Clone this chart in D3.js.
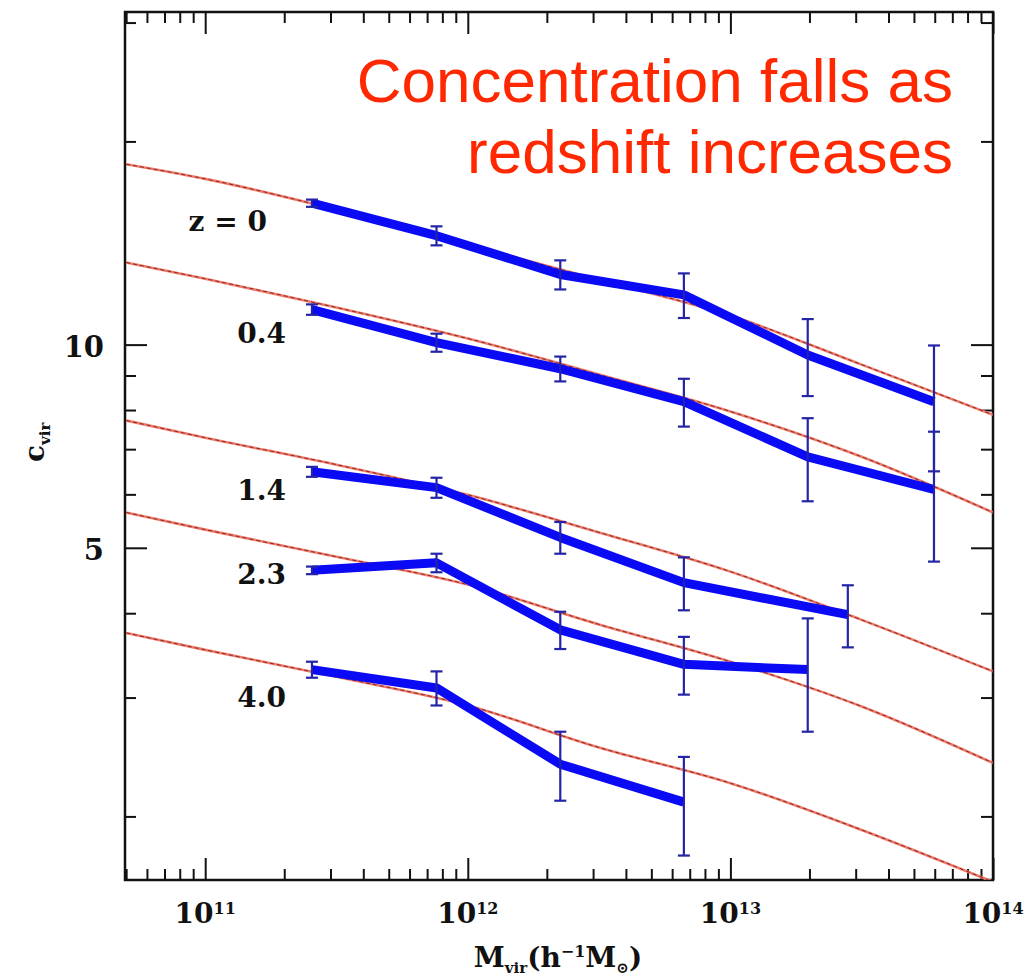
<!DOCTYPE html>
<html>
<head>
<meta charset="utf-8">
<script src="https://cdn.jsdelivr.net/npm/d3@7"></script>
<style>
  body { margin: 0; background: #fff; }
  svg { display: block; }
  .tick-lbl, .zlabel, .axis-title { font-family: "DejaVu Serif", serif; font-weight: bold; fill: #111; }
</style>
</head>
<body id="body">
<svg></svg>
<script>
// redshift labels for each series
var redshifts = ["z = 0", "0.4", "1.4", "2.3", "4.0"];

// simulation points (mass bins, median c_vir, error)
var simMass = [
  [2.55e11, 7.6e11, 2.25e12, 6.65e12, 1.97e13, 5.96e13],
  [2.55e11, 7.6e11, 2.25e12, 6.65e12, 1.97e13, 5.96e13],
  [2.55e11, 7.6e11, 2.25e12, 6.65e12, 2.8e13],
  [2.55e11, 7.6e11, 2.25e12, 6.65e12, 1.97e13],
  [2.55e11, 7.6e11, 2.25e12, 6.65e12]
];
var simC = [
  [16.2, 14.5, 12.7, 11.85, 9.65, 8.23],
  [11.27, 10.07, 9.21, 8.23, 6.82, 6.10],
  [6.48, 6.14, 5.18, 4.44, 3.98],
  [4.63, 4.75, 3.78, 3.36, 3.30],
  [3.30, 3.10, 2.39, 2.10]
];
var simErr = [
  [0.2, 0.47, 0.63, 0.9, 1.26, 1.74],
  [0.2, 0.31, 0.39, 0.67, 0.96, 1.33],
  [0.11, 0.21, 0.28, 0.4, 0.42],
  [0.06, 0.15, 0.24, 0.33, 0.63],
  [0.09, 0.18, 0.28, 0.35]
];

// model curves (red)
var modelMass = [5e10, 1e11, 3.16e11, 1e12, 3.16e12, 1e13, 3.16e13, 1e14];
var modelC = [
  [18.5, 17.6, 15.85, 14.06, 12.48, 11.04, 9.34, 7.87],
  [13.23, 12.52, 11.35, 10.21, 9.03, 7.96, 6.82, 5.64],
  [7.72, 7.28, 6.64, 5.99, 5.27, 4.61, 3.91, 3.28],
  [5.64, 5.32, 4.85, 4.41, 3.85, 3.39, 2.91, 2.40],
  [3.74, 3.53, 3.22, 2.92, 2.53, 2.24, 1.91, 1.60]
];

var xMajor = [1e11, 1e12, 1e13, 1e14];
var xMinor = [];
[1e10, 1e11, 1e12, 1e13].forEach(function (d) {
  for (var k = 2; k <= 9; k++) xMinor.push(d * k);
});
var yMajor = [5, 10];
var yMinor = [2, 3, 4, 6, 7, 8, 9, 20, 30];
var note = ["Concentration falls as", "redshift increases"];

var width = 1033, height = 980;
var plotL = 125, plotR = 993, plotT = 12, plotB = 880;

var svg = d3.select("svg")
  .attr("width", width)
  .attr("height", height);

var x = d3.scaleLog().domain([4.95e10, 1e14]).range([plotL, plotR]);
var y = d3.scaleLog().domain([1.61, 31.1]).range([plotB, plotT]);

svg.append("defs").append("clipPath")
  .attr("id", "plot-clip")
  .append("rect")
  .attr("x", plotL).attr("y", plotT)
  .attr("width", plotR - plotL).attr("height", plotB - plotT);

// ticks, all pointing inward
function ticks(axis, vals, size, tx) {
  var d = axis.scale().domain();
  var g = svg.append("g")
    .attr("transform", tx)
    .call(axis.tickValues(vals.filter(function (v) {
      return v >= d[0] && v <= d[1];
    })).tickSize(size).tickFormat(""));
  g.select(".domain").remove();
  g.selectAll(".tick line").attr("stroke", "#111").attr("stroke-width", 2);
}
ticks(d3.axisBottom(x), xMinor, -11, "translate(0," + plotB + ")");
ticks(d3.axisBottom(x), xMajor, -22, "translate(0," + plotB + ")");
ticks(d3.axisTop(x), xMinor, -11, "translate(0," + plotT + ")");
ticks(d3.axisTop(x), xMajor, -22, "translate(0," + plotT + ")");
ticks(d3.axisLeft(y), yMinor, -11, "translate(" + plotL + ",0)");
ticks(d3.axisLeft(y), yMajor, -22, "translate(" + plotL + ",0)");
ticks(d3.axisRight(y), yMinor, -12, "translate(" + plotR + ",0)");
ticks(d3.axisRight(y), yMajor, -22, "translate(" + plotR + ",0)");

svg.append("rect")
  .attr("x", plotL).attr("y", plotT)
  .attr("width", plotR - plotL).attr("height", plotB - plotT)
  .attr("fill", "none").attr("stroke", "#111").attr("stroke-width", 2.5);

// tick labels
var xl = svg.append("g").selectAll("text")
  .data(xMajor)
  .enter().append("text")
  .attr("class", "tick-lbl")
  .attr("x", function (d) { return x(d); })
  .attr("y", 923)
  .attr("text-anchor", "middle")
  .style("font-size", "28px");
xl.append("tspan").text("10");
xl.append("tspan")
  .attr("dy", -9)
  .style("font-size", "16px")
  .text(function (d) { return Math.round(Math.log10(d)); });

svg.append("g").selectAll("text")
  .data(yMajor)
  .enter().append("text")
  .attr("class", "tick-lbl")
  .attr("x", 104)
  .attr("y", function (d) { return y(d) + 12; })
  .attr("text-anchor", "end")
  .style("font-size", "29px")
  .text(function (d) { return d; });

// axis titles
var xt = svg.append("text")
  .attr("class", "axis-title")
  .attr("x", 558).attr("y", 967)
  .attr("text-anchor", "middle")
  .style("font-size", "28px");
xt.append("tspan").text("M");
xt.append("tspan").attr("dy", 6).style("font-size", "15px").text("vir");
xt.append("tspan").attr("dy", -6).text("(h");
xt.append("tspan").attr("dy", -10).style("font-size", "16px").text("\u22121");
xt.append("tspan").attr("dy", 10).text("M");
xt.append("tspan").attr("dy", 6).style("font-size", "15px").text("\u2299");
xt.append("tspan").attr("dy", -6).text(")");

var yt = svg.append("text")
  .attr("class", "axis-title")
  .attr("transform", "translate(44,462) rotate(-90)")
  .style("font-size", "28px");
yt.append("tspan").text("c");
yt.append("tspan").attr("dy", 6).style("font-size", "15px").text("vir");

var plot = svg.append("g").attr("clip-path", "url(#plot-clip)");

// model curves
var modelLine = d3.line()
  .x(function (d) { return x(d[0]); })
  .y(function (d) { return y(d[1]); })
  .curve(d3.curveMonotoneX);

modelC.forEach(function (cs) {
  var pts = modelMass.map(function (m, i) { return [m, cs[i]]; });
  plot.append("path")
    .attr("d", modelLine(pts))
    .attr("fill", "none")
    .attr("stroke", "#f07a6c")
    .attr("stroke-width", 2.6);
  plot.append("path")
    .attr("d", modelLine(pts))
    .attr("fill", "none")
    .attr("stroke", "#7a2418")
    .attr("stroke-width", 0.9)
    .attr("stroke-dasharray", "4,3");
});

// simulation lines
var simLine = d3.line()
  .x(function (d) { return x(d.m); })
  .y(function (d) { return y(d.c); });

simMass.forEach(function (ms, s) {
  var pts = ms.map(function (m, i) {
    return { m: m, c: simC[s][i], e: simErr[s][i] };
  });
  plot.append("path")
    .attr("d", simLine(pts))
    .attr("fill", "none")
    .attr("stroke", "#0a0af5")
    .attr("stroke-width", 9)
    .attr("stroke-linejoin", "round");

  var eb = plot.append("g")
    .attr("stroke", "#2424a6")
    .attr("stroke-width", 2.2)
    .selectAll("g")
    .data(pts)
    .enter().append("g");
  eb.append("line")
    .attr("x1", function (d) { return x(d.m); })
    .attr("x2", function (d) { return x(d.m); })
    .attr("y1", function (d) { return y(d.c + d.e); })
    .attr("y2", function (d) { return y(d.c - d.e); });
  [1, -1].forEach(function (sign) {
    eb.append("line")
      .attr("x1", function (d) { return x(d.m) - 6; })
      .attr("x2", function (d) { return x(d.m) + 6; })
      .attr("y1", function (d) { return y(d.c + sign * d.e); })
      .attr("y2", function (d) { return y(d.c + sign * d.e); });
  });
});

// redshift labels
var labelDx = [-45, -26, -26, -26, -26];
var labelDy = [28, 33, 28, 14, 37];
svg.append("g").selectAll("text")
  .data(redshifts)
  .enter().append("text")
  .attr("class", "zlabel")
  .attr("x", function (d, i) { return x(simMass[i][0]) + labelDx[i]; })
  .attr("y", function (d, i) { return y(simC[i][0]) + labelDy[i]; })
  .attr("text-anchor", "end")
  .style("font-size", "28px")
  .text(function (d) { return d; });

// annotation
svg.append("g").selectAll("text")
  .data(note)
  .enter().append("text")
  .attr("x", 953)
  .attr("y", function (d, i) { return 102 + i * 71; })
  .attr("text-anchor", "end")
  .style("font-family", "'Liberation Sans', Arial, sans-serif")
  .style("font-size", "62px")
  .attr("fill", "#ff2800")
  .text(function (d) { return d; });
</script>
</body>
</html>
